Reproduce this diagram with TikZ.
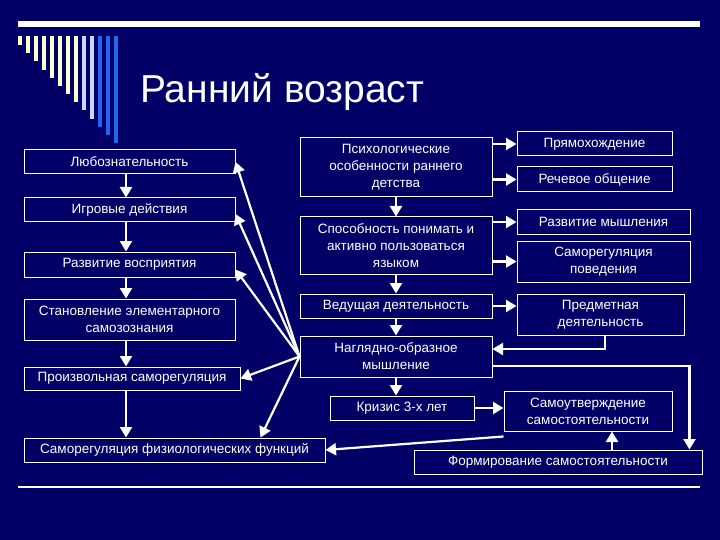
\documentclass[tikz,border=0pt]{standalone}
\usepackage{fontspec}
\setmainfont{Liberation Sans}
\usetikzlibrary{arrows.meta,positioning}
\definecolor{slidebg}{RGB}{0,0,102}
\definecolor{stripeyellow}{RGB}{255,255,204}
\definecolor{stripelight}{RGB}{204,214,255}
\definecolor{stripeblue}{RGB}{34,102,238}

\begin{document}
\begin{tikzpicture}[x=1pt, y=-1pt,
    box/.style={draw=white, line width=1pt, text=white, align=center, inner sep=0pt,
      font=\fontsize{13.5}{17}\selectfont},
    arr/.style={draw=white, line width=2.2pt, -{Triangle[length=10.5pt,width=12pt]}}]
    % slide background
    \fill[slidebg] (0,0) rectangle (720,540);
    \useasboundingbox (0,0) rectangle (720,540);
    \fill[white] (18,21) rectangle (700,27);
    \draw[white, line width=1.5pt] (18,487) -- (700,487);
    \foreach \i in {0,...,12} {
        \ifnum\i<8 \def\stripecol{stripeyellow}\else
          \ifnum\i<10 \def\stripecol{stripelight}\else \def\stripecol{stripeblue}\fi\fi
        \fill[\stripecol] (18+8*\i,36) rectangle (22+8*\i,45+8.17*\i);
    }
    \node[text=white, inner sep=0pt, anchor=base west, font=\fontsize{39}{44}\selectfont] (title) at (140,103) {Ранний возраст};

    % left column
    \node[box, minimum width=211pt, minimum height=24pt] (lub) at (129.5,162) {Любознательность};
    \node[box, minimum width=211pt, minimum height=24pt] (igr) at (129.5,210) {Игровые действия};
    \node[box, minimum width=211pt, minimum height=25pt] (razv) at (129.5,264.5) {Развитие восприятия};
    \node[box, minimum width=211pt, minimum height=41pt] (stan) at (129.5,319.5) {Становление элементарного\\самозознания};
    \node[box, minimum width=216pt, minimum height=23pt] (proizv) at (132,378.5) {Произвольная саморегуляция};
    \node[box, minimum width=301pt, minimum height=24pt] (fiz) at (174.5,450) {Саморегуляция физиологических функций};

    % middle column
    \node[box, minimum width=192pt, minimum height=59pt] (psych) at (396,167.5) {Психологические\\особенности раннего\\детства};
    \node[box, minimum width=192pt, minimum height=57pt] (spos) at (396,245.5) {Способность понимать и\\активно пользоваться\\языком};
    \node[box, minimum width=192pt, minimum height=24pt] (ved) at (396,306) {Ведущая деятельность};
    \node[box, minimum width=192pt, minimum height=41pt] (nagl) at (396,356.5) {Наглядно-образное\\мышление};
    \node[box, minimum width=144pt, minimum height=24pt] (kriz) at (402,408) {Кризис 3-х лет};

    % right column
    \node[box, minimum width=155pt, minimum height=24pt] (pryam) at (594.5,144) {Прямохождение};
    \node[box, minimum width=155pt, minimum height=25pt] (rech) at (594.5,179.5) {Речевое общение};
    \node[box, minimum width=173pt, minimum height=24pt] (mysh) at (603.5,222) {Развитие мышления};
    \node[box, minimum width=173pt, minimum height=41pt] (samoreg) at (603.5,261.5) {Саморегуляция\\поведения};
    \node[box, minimum width=167pt, minimum height=41pt] (predm) at (600.5,314.5) {Предметная\\деятельность};
    \node[box, minimum width=168pt, minimum height=40pt] (samout) at (588,411) {Самоутверждение\\самостоятельности};
    \node[box, minimum width=288pt, minimum height=24pt] (form) at (558,462) {Формирование самостоятельности};

    % left chain
    \draw[arr] (lub.south -| 126,0) -- (igr.north -| 126,0);
    \draw[arr] (igr.south -| 126,0) -- (razv.north -| 126,0);
    \draw[arr] (razv.south -| 126,0) -- (stan.north -| 126,0);
    \draw[arr] (stan.south -| 126,0) -- (proizv.north -| 126,0);
    \draw[arr] (proizv.south -| 126,0) -- (fiz.north -| 126,0);

    % middle chain
    \draw[arr] (psych) -- (spos);
    \draw[arr] (spos) -- (ved);
    \draw[arr] (ved) -- (nagl);
    \draw[arr] (nagl.south) -- (nagl.south |- kriz.north);

    % to the right column
    \draw[arr] (psych.east |- pryam.west) -- (pryam.west);
    \draw[arr] (psych.east |- rech.west) -- (rech.west);
    \draw[arr] (spos.east |- mysh.west) -- (mysh.west);
    \draw[arr] (spos.east |- samoreg.west) -- (samoreg.west);
    \draw[arr] (ved.east) -- (ved.east -| predm.west);
    \draw[arr] (kriz.east) -- (kriz.east -| samout.west);
    \draw[arr] ([xshift=4.5pt]predm.south) |- ([yshift=7.5pt]nagl.east);
    \draw[arr] ([yshift=-9.5pt]nagl.east) -| ([xshift=-13pt]form.north east);
    \draw[arr] ([xshift=24pt]samout.south |- form.north) -- ([xshift=24pt]samout.south);
    \draw[arr] ([yshift=-5pt]samout.south west) -- (fiz.east);

    % fan from the thinking box
    \foreach \tgt/\dx/\dy in {lub.east/0/0, igr.east/0/-4, razv.east/0/-5, proizv.east/0/0, fiz.north east/-65/0}
        \draw[arr] (nagl.west) -- ([xshift=\dx pt, yshift=\dy pt]\tgt);
\end{tikzpicture}
\end{document}
